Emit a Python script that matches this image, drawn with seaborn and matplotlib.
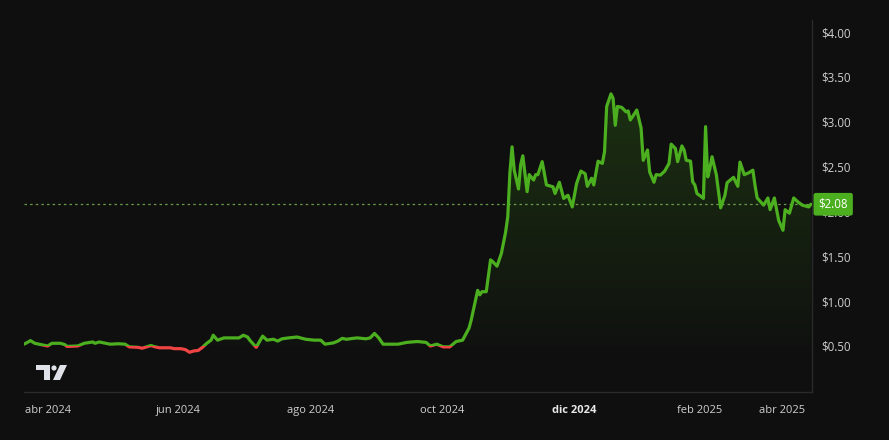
import numpy as np
import pandas as pd
import matplotlib
matplotlib.use("Agg")
import matplotlib.pyplot as plt
import matplotlib.transforms as mtransforms
from matplotlib.patches import Rectangle, Polygon, Circle
from matplotlib.path import Path
import seaborn as sns

# --- data (day offset from first bar, close price in $) ---
day = [0, 2, 3, 5, 7, 11, 13, 17, 19, 20, 25, 28, 32, 33, 35, 38, 40, 44, 47, 49,
       53, 55, 59, 61, 63, 68, 70, 73, 75, 77, 79, 81, 83, 85, 87, 88, 90, 93, 96, 100,
       102, 104, 105, 108, 111, 113, 116, 118, 120, 123, 127, 131, 135, 138, 140, 144, 146, 148, 150, 153,
       155, 157, 159, 161, 163, 165, 167, 170, 174, 178, 183, 187, 189, 192, 195, 198, 201, 204, 207, 208,
       210, 211, 212, 213, 215, 217, 218, 220, 222, 224, 225, 226, 227, 228, 230, 231, 232, 234, 235, 237,
       238, 239, 241, 243, 246, 247, 249, 251, 253, 255, 257, 259, 261, 262, 264, 265, 267, 269, 270, 271,
       273, 274, 275, 276, 278, 280, 281, 282, 283, 285, 287, 288, 290, 291, 293, 294, 296, 298, 300, 301,
       303, 304, 306, 307, 308, 310, 311, 312, 313, 315, 316, 317, 318, 319, 320, 322, 324, 326, 327, 330,
       332, 333, 335, 337, 339, 340, 341, 344, 346, 347, 349, 351, 353, 354, 356, 358, 360, 362, 365, 366]
price = [0.52, 0.545, 0.56, 0.53, 0.52, 0.50, 0.53, 0.53, 0.515, 0.495, 0.50, 0.53, 0.545, 0.53, 0.545, 0.53, 0.52, 0.525, 0.52, 0.49,
         0.485, 0.475, 0.505, 0.49, 0.48, 0.48, 0.47, 0.47, 0.46, 0.43, 0.445, 0.45, 0.485, 0.53, 0.565, 0.62, 0.565, 0.59, 0.59, 0.59,
         0.62, 0.60, 0.565, 0.485, 0.61, 0.565, 0.575, 0.555, 0.58, 0.59, 0.60, 0.575, 0.565, 0.565, 0.52, 0.535, 0.555, 0.585, 0.575, 0.585,
         0.59, 0.585, 0.58, 0.59, 0.64, 0.59, 0.52, 0.52, 0.52, 0.54, 0.55, 0.54, 0.50, 0.52, 0.49, 0.49, 0.55, 0.565, 0.70, 0.79,
         1.01, 1.12, 1.07, 1.105, 1.105, 1.46, 1.44, 1.39, 1.53, 1.77, 1.94, 2.43, 2.72, 2.46, 2.25, 2.52, 2.62, 2.22, 2.41, 2.35,
         2.41, 2.41, 2.555, 2.295, 2.275, 2.20, 2.325, 2.145, 2.18, 2.05, 2.31, 2.45, 2.42, 2.28, 2.37, 2.295, 2.56, 2.535, 2.665, 3.17,
         3.31, 3.26, 2.96, 3.17, 3.16, 3.11, 3.12, 3.02, 3.055, 3.13, 2.93, 2.57, 2.685, 2.44, 2.325, 2.41, 2.405, 2.45, 2.535, 2.75,
         2.70, 2.555, 2.73, 2.685, 2.57, 2.56, 2.33, 2.295, 2.20, 2.165, 2.145, 2.945, 2.385, 2.48, 2.61, 2.41, 2.04, 2.18, 2.32, 2.38,
         2.28, 2.55, 2.41, 2.43, 2.46, 2.29, 2.15, 2.07, 2.15, 2.02, 2.15, 1.90, 1.79, 2.02, 1.98, 2.15, 2.105, 2.07, 2.05, 2.08]

baseline = 0.505
last_price = 2.08

month_pos = [11.2, 71.6, 133.5, 194.4, 255.8, 314.4, 352.6]
month_labels = ["abr 2024", "jun 2024", "ago 2024", "oct 2024", "dic 2024", "feb 2025", "abr 2025"]
y_ticks = [0.5, 1.0, 1.5, 2.0, 2.5, 3.0, 3.5, 4.0]

df = pd.DataFrame({"day": day, "price": price})

bg = "#0f0f0f"
green = "#4caf1f"
red = "#ef4444"
txt = "#cfcfcf"
grid_col = "#2a2a2a"

sns.set_theme(style="dark", rc={"axes.facecolor": bg, "figure.facecolor": bg})
plt.rcParams["font.family"] = ["Open Sans", "DejaVu Sans"]

W, H = 889, 440
fig = plt.figure(figsize=(W / 100, H / 100), dpi=100)
ax = fig.add_axes([24 / W, 1 - 392 / H, (812 - 24) / W, (392 - 20) / H])

x_max = 366.5
y_min, y_max = -0.013, 4.134
ax.set_xlim(0, x_max)
ax.set_ylim(y_min, y_max)

# gradient fill above baseline
x = df["day"].to_numpy(float)
y = df["price"].to_numpy(float)
fill = ax.fill_between(x, y, baseline, where=y >= baseline, interpolate=True,
                       facecolor="none", edgecolor="none")
clip = Path.make_compound_path(*fill.get_paths())
grad = np.linspace(0.02, 0.21, 256).reshape(-1, 1)
rgba = np.zeros((256, 1, 4))
rgba[..., 0], rgba[..., 1], rgba[..., 2] = 0.30, 0.69, 0.12
rgba[..., 3] = grad
im = ax.imshow(rgba, extent=[0, x_max, baseline, max(y)], origin="lower",
               aspect="auto", zorder=1)
im.set_clip_path(clip, ax.transData)

# line: green above baseline, red below
sns.lineplot(data=df, x="day", y="price", color=green, linewidth=2.3, ax=ax, zorder=3)
sns.lineplot(data=df, x="day", y="price", color=red, linewidth=2.3, ax=ax, zorder=3)
g_line, r_line = ax.lines[-2], ax.lines[-1]
g_line.set_clip_path(Rectangle((0, baseline), x_max, 10, transform=ax.transData))
r_line.set_clip_path(Rectangle((0, -5), x_max, baseline + 5, transform=ax.transData))
for ln in (g_line, r_line):
    ln.set_solid_joinstyle("round")
    ln.set_solid_capstyle("round")

# last price dotted line
ax.axhline(last_price, color="#7ab356", linewidth=0.9, linestyle=(0, (2, 2.5)),
           alpha=0.85, zorder=2)

# axes styling
ax.set_xlabel("")
ax.set_ylabel("")
ax.set_xticks(month_pos)
ax.set_xticklabels(month_labels)
ax.yaxis.tick_right()
ax.set_yticks(y_ticks)
ax.set_yticklabels([f"${v:.2f}" for v in y_ticks])
ax.tick_params(axis="x", length=0, pad=9, labelsize=8, colors=txt)
ax.tick_params(axis="y", length=0, pad=7, labelsize=8.3, colors=txt)
for lbl in ax.get_xticklabels():
    if lbl.get_text() == "dic 2024":
        lbl.set_fontweight("bold")
        lbl.set_color("#e8e8e8")
ax.grid(False)
for s in ["left", "top"]:
    ax.spines[s].set_visible(False)
for s in ["right", "bottom"]:
    ax.spines[s].set_color(grid_col)
    ax.spines[s].set_linewidth(1)

# last price badge on the price scale (covers the $2.00 label as in the app)
trans = mtransforms.blended_transform_factory(ax.transAxes, ax.transData)
ax.annotate(f"${last_price:.2f}", xy=(1.0, last_price), xycoords=trans,
            xytext=(4.6, 0), textcoords="offset points", ha="left", va="center",
            fontsize=8.3, color="white", zorder=10, annotation_clip=False,
            bbox=dict(boxstyle="round,pad=0.42,rounding_size=0.2", fc=green, ec="none"))

# TradingView logo (pixel coordinates, y flipped)
to_px = mtransforms.Affine2D().scale(1, -1).translate(0, H)
logo_col = "#dfe2e8"
fig.add_artist(Polygon([(36, 365), (50, 365), (50, 380), (44, 380), (44, 370), (36, 370)],
                       closed=True, fc=logo_col, ec="none", transform=to_px))
fig.add_artist(Circle((54, 368), 2.6, fc=logo_col, ec="none", transform=to_px))
fig.add_artist(Polygon([(60, 365), (67, 365), (60, 380), (53, 380)],
                       closed=True, fc=logo_col, ec="none", transform=to_px))

fig.savefig("out.png", dpi=100, facecolor=bg)
